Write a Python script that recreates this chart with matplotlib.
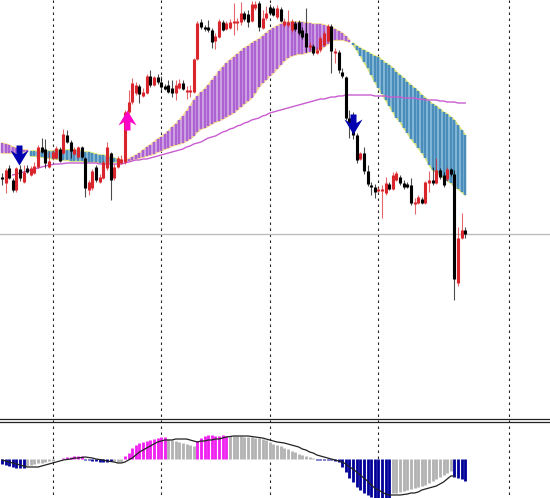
import numpy as np
import matplotlib
matplotlib.use("Agg")
import matplotlib.pyplot as plt
from matplotlib.path import Path

# Vertical values are read as screen-scale levels (smaller = higher on the chart)
opens = [177,183,168,180,190,169,182,168,175,173,167,147,149,167,158,158,149,153,135,142,154,157,147,158,190,188,167,182,178,168,153,178,167,163,162,112,102,93,86,96,93,76,85,77,82,86,85,88,93,88,83,92,92,92,59,22,27,27,30,41,37,22,29,28,23,23,22,13,14,21,8,3,28,18,7,8,17,9,25,25,30,23,22,30,33,47,46,53,50,45,41,26,53,52,72,77,118,120,135,159,153,171,185,187,191,190,193,184,189,180,177,183,184,185,204,203,199,203,183,180,183,170,175,179,169,174,283,238,230]
closes = [177.6,170,178,190,168,178,172,172,168,166,147,152,163,161,152,148,161,134,142,151,149,147,157,188,182,171,180,177,162,147,180,167,158,159,112,102,83,85,94,92,76,85,77,82,87,89,92,93,85,83,89,90,90,59,23,27,29,30,42,36,21,30,23,22,21,21,13,19,22,4,4,27,18,13,13,15,8,21,21,22,21,29,33,37,47,45,53,50,38,33,26,51,51,70,76,118,125,135,160,153,171,184,187,192,189,189,183,189,175,173,183,187,187,203,202,197,203,182,180,183,170,177,185,169,174,279,238,230,234]
highs = [173,168,165,178,167,165,165,165,166,162,145,138,139,152,150,146,147,129,130,140,147,146,146,157,180,169,165,174,160,142,152,164,156,155,110,90,78,82,84,88,74,70,76,74,76,84,80,80,80,79,80,86,85,58,21,19,25,20,28,33,19,20,21,19,3,18,2,11,10,1,1,1,10,6,4,6,5,7,18,10,19,21,20,27,8,42,44,47,36,31,24,24,48,50,68,76,110,112,133,152,147,165,182,184,187,185,177,182,172,171,175,180,182,178,198,195,197,181,171,167,158,168,172,167,168,170,227,213,227]
lows = [185,193,179,192,192,181,183,173,176,174,168,153,168,168,160,159,162,154,143,158,155,158,158,197,195,190,182,183,179,170,200,180,168,164,164,114,104,95,103,97,94,87,86,84,92,90,93,97,100,89,90,99,97,93,60,29,31,32,48,49,38,31,30,29,35,30,25,21,27,22,10,31,29,20,15,16,19,22,27,27,32,31,35,39,52,50,55,54,52,46,42,73,63,73,78,120,138,139,163,160,174,186,195,198,192,218,195,190,190,181,185,189,188,205,214,204,204,204,192,185,184,179,187,181,176,300,286,239,238]

cloud_top = [143,144,145,147,148,149,150,150,151,151,151,151,151,151,151,150,150,150,150,150,150,150,151,152,152,153,154,155,155,156,157,158,159,160,160,159,157,155,153,150,147,145,142,139,137,134,131,127,124,120,116,111,106,100,96,92,89,85,80,76,71,67,63,60,57,54,51,48,46,43,41,39,36,33,30,28,26,24,23,22,22,22,22,22,23,23,24,24,24,25,26,27,29,31,33,36,40,43,46,48,50,52,54,56,57,60,63,65,68,72,75,78,82,85,88,91,95,98,101,104,106,109,112,114,117,120,125,130,135]
cloud_bot = [153,153,153,153,153,152,152,152,156,156,157,157,158,158,159,159,160,160,160,161,161,161,161,162,162,162,162,163,163,163,163,162,162,160,161,161,160,159,158,157,156,155,154,152,151,149,148,146,145,144,143,141,139,136,132,129,128,126,124,122,121,119,117,115,113,110,107,104,101,98,93,87,83,80,76,73,69,65,61,58,56,55,54,54,53,52,51,50,49,47,44,41,40,40,40,41,42,45,50,56,62,68,75,82,88,94,100,106,112,118,122,128,133,139,143,148,153,158,165,170,172,175,178,181,183,186,189,192,195]
cloud_bull = [True]*8 + [False]*26 + [True]*63 + [False]*32

ma_start = 3
ma_line = [175,174,173,172,171,170,169,168,167,166,165,164.5,164,164,163.5,163,163,163,163,163,163,163,163,163,164,164,164,164,164,164,164,163,162,161,160,160,159,159,158,157,156,155,154,153,152,151,150,149,147,146,144,143,142,140,138,137,136,134,132,131,129,128,126,125,123,122,120,119,118,116,115,113,112,111,110,109,108,107,106,105,104,103,102,101,100,99,99,98,97,97,96,96,95,95,95,95,95,95,95,95,96,96,96,96,97,97,97,97,98,98,98,98,99,99,100,100,100,100,101,101,102,102,102,103,103,103]

osc_hist = [464,465,466,467,468,468,468,466,465,464,463,462.5,462,461,460.5,458.5,458.5,458,457,456.5,456,456,456,459.5,460,461,461,462,462,462,461,461,462,462,456,453,448,445,443,442,441,440,439,438,437,437,439,440,441,442,443,444,445,446,441,438,436,435,435,436,436,435,436,436,436,436,436,437,437,437,438,438,439,440,442,444,445,446,448,449,451,452,454,455,456,457,458,460,460,460,460,460,461,462,467,472,478,482,487,490,493,495,497,498,498,498,498,498,493,492.5,492,491,490,489,488,487,486,485,483,481,479,477,475,473,471,477,478,479,481]
osc_kind = list("b"*7 + "g"*8 + "m"*8 + "b"*8 + "g"*3 + "m"*12 + "g"*8 + "m"*9 + "g"*24 + "b"*21 + "g"*17 + "b"*4)
osc_signal = [460,461,462,463,464,465,466,467,467,467,467,466,465,464,463,462,461,460,459.5,459,458,458,457.5,457,457.5,458,459,459.5,460,461,461.5,462,463,463,462,460,458,455,452,450,448,446,444,442,441,440,440,440,439,439,439,439,440,441,442,441,441,440,440,439,439,438,437,436.5,436,436,436,436,436,436.5,437,437.5,438,439,440,441,442,442.5,443,444,445,446,447,449,450,452,453,455,456,457,458,459,460,461,462,464,467,469,472,475,478,481,485,488,490,492,494,495,495,495,495,494.5,494,493,493,492,490,489,488,487,486,484,482,479,476,476]

grid_bars = [14, 44, 74, 104, 140]
level_line = 233.5
osc_zero = 459
panel_rules = [419.4, 421.8]
buy_arrows = [(34.5, 119.5)]
sell_arrows = [(4.7, 155), (96.9, 124)]

RED, BLACK = "#d8262c", "#000000"
PURPLE, PURPLE_PALE = "#ad62d2", "#d8b4ea"
TEAL, TEAL_PALE = "#4a8dbb", "#94c3e0"
OSC = {"b": "#000099", "g": "#b2b2b2", "m": "#f020f0"}

n = len(opens)
idx = np.arange(n)
step, first = 3.62, 1.9

fig = plt.figure(figsize=(5.5, 4.98), dpi=100, facecolor="white")
ax = fig.add_axes([0, 0, 1, 1])
ax.set_xlim(-first / step, (550 - first) / step)
ax.set_ylim(498, 0)
ax.axis("off")
px = 72 / 100

ax.vlines(grid_bars, 0, 498, colors="#222222", linewidth=0.8, linestyles=(0, (2.2, 3.2)), zorder=1)
ax.axhline(level_line, color="#bdbdbd", linewidth=1.0, zorder=1)
for r in panel_rules:
    ax.axhline(r, color="#222222", linewidth=0.9, zorder=2)

# Cloud
top, bot = np.array(cloud_top, float), np.array(cloud_bot, float)
bull = np.array(cloud_bull)
for mask, pale, solid, edge in ((bull, PURPLE_PALE, PURPLE, "#f2d68c"), (~bull, TEAL_PALE, TEAL, "#d6e27a")):
    ranges = np.flatnonzero(np.diff(np.r_[0, mask.astype(int), 0]))
    for a, b in zip(ranges[::2], ranges[1::2]):
        s = idx[a:b]
        ax.fill_between(s, top[a:b], bot[a:b], color=pale, linewidth=0, zorder=2)
        ax.plot(s, top[a:b], color=edge, linewidth=1.1, zorder=3)
        ax.plot(s, bot[a:b], color=edge, linewidth=1.1, zorder=3)
    ax.vlines(idx[mask], top[mask], bot[mask], colors=solid, linewidth=2.5 * px, zorder=3)

ax.plot(idx[ma_start:ma_start + len(ma_line)], ma_line, color="#c85cd0", linewidth=1.0, zorder=4)

# Candles
o, c, h, l = map(np.array, (opens, closes, highs, lows))
up = c < o
for mask, col in ((up, RED), (~up, BLACK)):
    ax.vlines(idx[mask], h[mask], l[mask], colors=col, linewidth=1.1 * px, alpha=0.7, zorder=5)
    ax.vlines(idx[mask], np.minimum(o, c)[mask], np.maximum(np.maximum(o, c)[mask], np.minimum(o, c)[mask] + 2),
              colors=col, linewidth=3.1 * px, zorder=6)

# Arrow markers
arrow = Path([(-3, -10), (3, -10), (3, -1.5), (9, -5), (0, 10), (-9, -5), (-3, -1.5), (-3, -10)], closed=True)
down = Path(arrow.vertices * [1, -1], closed=True)
for bx, by in buy_arrows:
    ax.plot([bx], [by], marker=arrow, markersize=20 * px,
            color="#ff00c8", markeredgewidth=0, zorder=7, linestyle="none")
for bx, by in sell_arrows:
    ax.plot([bx], [by], marker=down, markersize=20 * px,
            color="#0000b0", markeredgewidth=0, zorder=7, linestyle="none")

# Oscillator
kinds = np.array(osc_kind)
hist = np.array(osc_hist, float)
for k, col in OSC.items():
    m = kinds == k
    ax.vlines(idx[m], osc_zero, hist[m], colors=col, linewidth=2.8 * px, zorder=3)
ax.plot(idx[:len(osc_signal)], osc_signal, color="#222222", linewidth=0.9, zorder=4)

fig.savefig("out.png", dpi=100, facecolor="white")
